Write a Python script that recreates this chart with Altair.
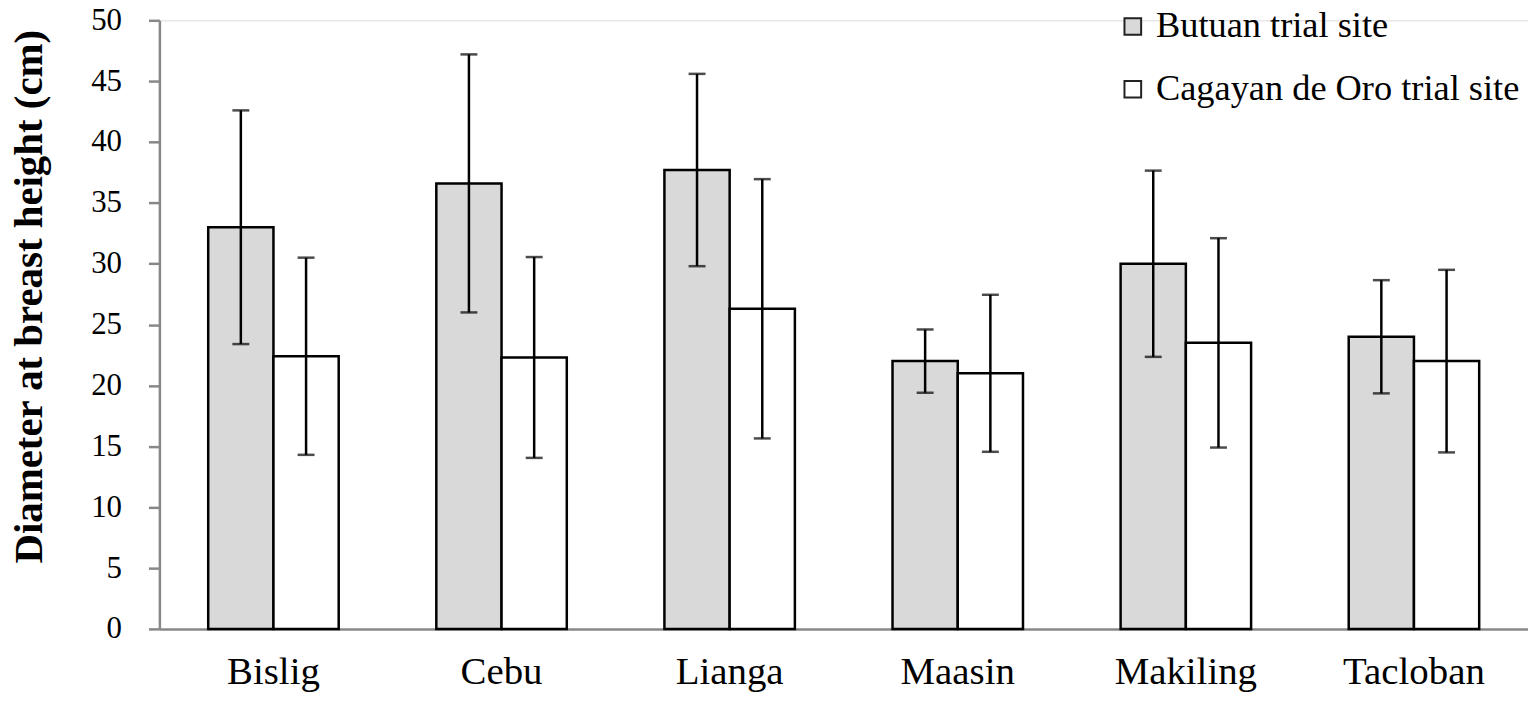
import altair as alt
import pandas as pd

regions = ["Bislig", "Cebu", "Lianga", "Maasin", "Makiling", "Tacloban"]
sites = ["Butuan trial site", "Cagayan de Oro trial site"]
butuan_mean = [33.0, 36.6, 37.7, 22.0, 30.0, 24.0]
butuan_sd = [9.6, 10.6, 7.9, 2.6, 7.65, 4.65]
cdo_mean = [22.4, 22.3, 26.3, 21.0, 23.5, 22.0]
cdo_sd = [8.1, 8.25, 10.65, 6.45, 8.6, 7.5]

rows = []
for i, r in enumerate(regions):
    rows.append({"region": r, "site": sites[0], "mean": butuan_mean[i],
                 "lo": butuan_mean[i] - butuan_sd[i], "hi": butuan_mean[i] + butuan_sd[i]})
    rows.append({"region": r, "site": sites[1], "mean": cdo_mean[i],
                 "lo": cdo_mean[i] - cdo_sd[i], "hi": cdo_mean[i] + cdo_sd[i]})
df = pd.DataFrame(rows)

FONT = "Liberation Serif"
pi = 0.428

x_enc = alt.X("region:N", sort=regions,
              scale=alt.Scale(paddingInner=pi, paddingOuter=pi / 2),
              axis=alt.Axis(title=None, labelAngle=0, ticks=False,
                            domainColor="#888888", domainWidth=2.5,
                            labelFont=FONT, labelFontSize=39, labelColor="black",
                            labelPadding=24, labelLimit=0))
xo_enc = alt.XOffset("site:N", sort=sites, scale=alt.Scale(paddingInner=0, paddingOuter=0))
y_scale = alt.Scale(domain=[0, 50], nice=False)

bars = alt.Chart(df).mark_bar(stroke="black", strokeWidth=2.5).encode(
    x=x_enc,
    xOffset=xo_enc,
    y=alt.Y("mean:Q", scale=y_scale,
            axis=alt.Axis(title="Diameter at breast height (cm)", values=list(range(0, 51, 5)),
                          grid=False, domainColor="#888888", domainWidth=2.5,
                          tickColor="#888888", tickWidth=2.5, tickSize=11,
                          labelFont=FONT, labelFontSize=31, labelColor="black", labelPadding=27,
                          titleFont=FONT, titleFontSize=41, titleFontWeight="bold",
                          titleColor="black", titlePadding=40, titleY=277)),
    color=alt.Color("site:N", sort=sites,
                    scale=alt.Scale(domain=sites, range=["#d9d9d9", "#ffffff"]),
                    legend=alt.Legend(title=None, orient="none", legendX=959, legendY=-12,
                                      symbolType="square", symbolSize=280,
                                      symbolStrokeColor="#222222", symbolStrokeWidth=2,
                                      labelFont=FONT, labelFontSize=36.5, labelColor="black",
                                      labelOffset=5, rowPadding=26, labelLimit=0)),
)

err = alt.Chart(df).mark_rule(color="black", strokeWidth=2.5).encode(
    x=x_enc, xOffset=xo_enc, y=alt.Y("lo:Q", scale=y_scale), y2="hi:Q")
cap_lo = alt.Chart(df).mark_tick(color="black", thickness=2.5, size=17).encode(
    x=x_enc, xOffset=xo_enc, y=alt.Y("lo:Q", scale=y_scale))
cap_hi = alt.Chart(df).mark_tick(color="black", thickness=2.5, size=17).encode(
    x=x_enc, xOffset=xo_enc, y=alt.Y("hi:Q", scale=y_scale))

chart = alt.layer(bars, err, cap_lo, cap_hi).properties(
    width=1374, height=611,
    autosize=alt.AutoSizeParams(type="none"),
    padding={"left": 152, "top": 11, "right": 0, "bottom": 64},
).configure_view(stroke=None).configure(background="white")

chart.save("out.html", embed_options={"renderer": "svg", "actions": False})
